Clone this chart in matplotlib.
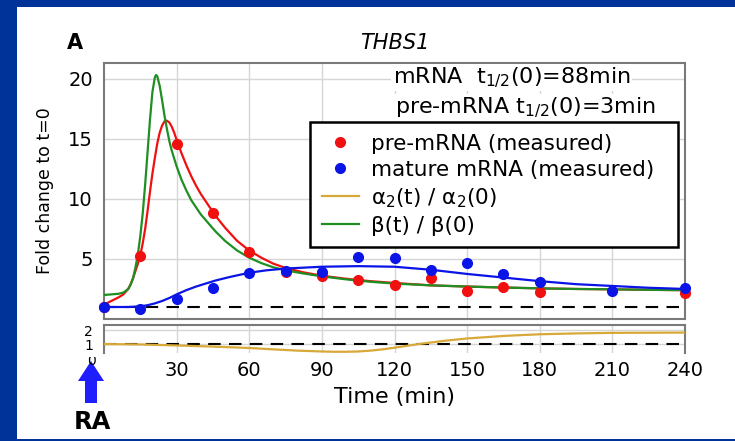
import matplotlib
matplotlib.use("Agg")
from matplotlib import pyplot as plt
from matplotlib.patches import Rectangle, Polygon
from matplotlib.lines import Line2D
from matplotlib.transforms import Bbox, TransformedBbox

plt.rcParams['font.family'] = ['DejaVu Sans']

# measured fold changes (qPCR time course)
t_pre = [0, 15, 30, 45, 60, 75, 90, 105, 120, 135, 150, 165, 180, 240]
pre_mrna = [1.0, 5.25, 14.6, 8.8, 5.6, 3.95, 3.55, 3.25, 2.85, 3.4, 2.3, 2.7, 2.25, 2.2]
t_mature = [0, 15, 30, 45, 60, 75, 90, 105, 120, 135, 150, 165, 180, 210, 240]
mature_mrna = [1.0, 0.8, 1.65, 2.6, 3.85, 4.0, 3.9, 5.2, 5.1, 4.1, 4.65, 3.75, 3.1, 2.35, 2.6]

# model fits
t_pre_fit = [0, 2, 4, 6, 8, 10, 11, 12, 13, 14, 15, 16, 17, 18, 19, 20, 21, 22, 23, 24, 25, 26,
             27, 28, 29, 30, 32, 34, 36, 38, 40, 43, 46, 50, 55, 60, 65, 70, 75, 82, 90, 100,
             110, 120, 135, 150, 165, 180, 195, 210, 225, 240]
pre_fit = [1.2, 1.4, 1.6, 1.8, 2.05, 2.5, 2.9, 3.4, 4.0, 4.6, 5.3, 6.3, 7.5, 9.0, 10.6, 12.1,
           13.4, 14.6, 15.5, 16.1, 16.45, 16.5, 16.35, 16.0, 15.5, 14.9, 13.8, 12.8, 11.9, 11.1,
           10.4, 9.5, 8.6, 7.6, 6.5, 5.7, 5.1, 4.6, 4.25, 3.9, 3.6, 3.35, 3.15, 3.0, 2.8, 2.7,
           2.62, 2.55, 2.5, 2.47, 2.43, 2.4]

t_beta = [0, 3, 6, 8, 10, 11, 12, 13, 14, 15, 16, 17, 18, 19, 20, 21, 21.5, 22, 23, 24, 25, 26,
          27, 28, 30, 32, 34, 36, 38, 40, 43, 46, 50, 55, 60, 65, 70, 75, 82, 90, 100, 110, 120,
          135, 150, 165, 180, 195, 210, 225, 240]
beta_fit = [2.0, 2.05, 2.1, 2.2, 2.5, 2.85, 3.4, 4.3, 5.4, 6.9, 8.8, 11.2, 13.9, 16.6, 18.9,
            20.1, 20.3, 20.2, 19.4, 18.2, 16.9, 15.8, 14.8, 14.0, 12.7, 11.6, 10.7, 9.9, 9.3,
            8.7, 8.0, 7.3, 6.5, 5.7, 5.1, 4.65, 4.3, 4.05, 3.8, 3.55, 3.3, 3.1, 2.95, 2.8, 2.7,
            2.62, 2.55, 2.5, 2.47, 2.43, 2.4]

t_mature_fit = [0, 5, 10, 15, 18, 21, 24, 27, 30, 34, 38, 42, 46, 52, 60, 67, 75, 90, 105, 120,
                135, 150, 165, 180, 195, 210, 225, 240]
mature_fit = [1.0, 1.0, 1.0, 1.05, 1.15, 1.3, 1.5, 1.75, 2.05, 2.4, 2.7, 2.95, 3.2, 3.5, 3.85,
              4.05, 4.2, 4.35, 4.4, 4.35, 4.1, 3.75, 3.45, 3.15, 2.9, 2.75, 2.6, 2.5]

t_alpha = [0, 15, 30, 45, 60, 70, 80, 90, 95, 100, 105, 110, 115, 120, 125, 130, 140, 150, 165,
           180, 195, 210, 225, 240]
alpha_fit = [1.0, 0.97, 0.9, 0.82, 0.72, 0.62, 0.53, 0.47, 0.45, 0.45, 0.47, 0.53, 0.62, 0.74,
             0.87, 1.0, 1.22, 1.4, 1.58, 1.7, 1.76, 1.8, 1.81, 1.82]

x_ticks = [30, 60, 90, 120, 150, 180, 210, 240]
main_ticks = [5, 10, 15, 20]
lower_ticks = [1, 2]

RED = '#f01010'
BLUE = '#0a14e6'
GREEN = '#1f8f23'
GOLD = '#d8a838'
SPINE = '#7a7a7a'
GRID = '#d6d6d6'

fig = plt.figure(figsize=(7.35, 4.41), dpi=100, facecolor='#003399')
fig.add_artist(Rectangle((17 / 735, 2 / 441), 1, (441 - 9) / 441, transform=fig.transFigure,
                         facecolor='white', edgecolor='none', zorder=-1))

ax = fig.add_axes([0.1415, 0.2766, 0.7905, 0.5805])
ax2 = fig.add_axes([0.1415, 0.1995, 0.7905, 0.0635])

for a in (ax, ax2):
    a.set_xlim(0, 240)
    a.set_xticks(x_ticks)
    a.grid(True, color=GRID, lw=1)
    a.set_axisbelow(True)
    a.tick_params(length=0, labelsize=14, pad=8)
    for s in a.spines.values():
        s.set_color(SPINE)
        s.set_linewidth(1.5)

# upper panel: pre-mRNA / mRNA time course
ax.set_ylim(0, 21.3)
ax.set_yticks(main_ticks)
ax.tick_params(axis='x', labelbottom=False)
ax.axhline(1, color='black', ls=(0, (6, 4)), lw=1.5, zorder=2)

ax.plot(t_pre_fit, pre_fit, color=RED, lw=1.6, zorder=3)
ax.plot(t_beta, beta_fit, color=GREEN, lw=1.6, zorder=3)
ax.plot(t_mature_fit, mature_fit, color=BLUE, lw=1.6, zorder=3)
ax.plot(t_pre, pre_mrna, 'o', color=RED, ms=7, clip_on=False, zorder=4)
ax.plot(t_mature, mature_mrna, 'o', color=BLUE, ms=7, clip_on=False, zorder=5)

ax.set_ylabel('Fold change to t=0', fontsize=12.5, labelpad=10)
ax.set_title('THBS1', fontsize=15, style='italic', pad=10)
fig.text(75 / 735, 1 - 43 / 441, 'A', fontsize=15, fontweight='bold', ha='center', va='center')

ax.text(0.497, 0.922, 'mRNA  t$_{1/2}$(0)=88min', transform=ax.transAxes, fontsize=16,
        va='baseline', ha='left', bbox=dict(fc='white', ec='none', pad=1), zorder=6)
ax.text(0.50, 0.805, 'pre-mRNA t$_{1/2}$(0)=3min', transform=ax.transAxes, fontsize=16,
        va='baseline', ha='left', bbox=dict(fc='white', ec='none', pad=1), zorder=6)

handles = [
    Line2D([], [], ls='none', marker='o', color=RED, ms=7),
    Line2D([], [], ls='none', marker='o', color=BLUE, ms=7),
    Line2D([], [], color=GOLD, lw=1.6),
    Line2D([], [], color=GREEN, lw=1.6),
]
labels = ['pre-mRNA (measured)', 'mature mRNA (measured)',
          'α$_2$(t) / α$_2$(0)', 'β(t) / β(0)']
leg = ax.legend(handles, labels, loc='upper left', bbox_to_anchor=(0.3546, 0.7695, 0.6334, 0),
                mode='expand', borderaxespad=0, fontsize=15.5, frameon=True, fancybox=False,
                framealpha=1, edgecolor='black', handlelength=1.72, handletextpad=0.56,
                labelspacing=0.28, borderpad=0.55, numpoints=1)
leg.get_frame().set_linewidth(1.8)
leg.set_zorder(7)

# lower panel: alpha_2 ratio
ax2.set_ylim(0.36, 2.36)
ax2.set_yticks(lower_ticks)
ax2.tick_params(axis='y', labelsize=10)
ax2.spines['bottom'].set_visible(False)
ax2.axhline(1, color='black', ls=(0, (6, 4)), lw=1.5, zorder=2)
ax2.plot(t_alpha, alpha_fit, color=GOLD, lw=1.6, zorder=3)
ax2.tick_params(axis='x', pad=6)
ax2.set_xlabel('Time (min)', fontsize=16, labelpad=5)

zero = fig.text(96 / 735, 1 - 361 / 441, '0', fontsize=10, ha='right', va='center')
zero.set_clip_box(TransformedBbox(Bbox([[0, 0], [1, 1 - 357 / 441]]), fig.transFigure))
zero.set_clip_on(True)

# RA stimulus arrow
px = lambda x, y: (x / 100, (441 - y) / 100)
arrow = Polygon([px(91, 361), px(104, 381), px(97, 381), px(97, 403), px(85, 403),
                 px(85, 381), px(78, 381)], closed=True, transform=fig.dpi_scale_trans,
                facecolor='#1e1eff', edgecolor='none')
fig.add_artist(arrow)
fig.text(92 / 735, 1 - 422 / 441, 'RA', fontsize=17.5, fontweight='bold', ha='center',
         va='center')

fig.savefig('out.png', dpi=100, facecolor=fig.get_facecolor())
